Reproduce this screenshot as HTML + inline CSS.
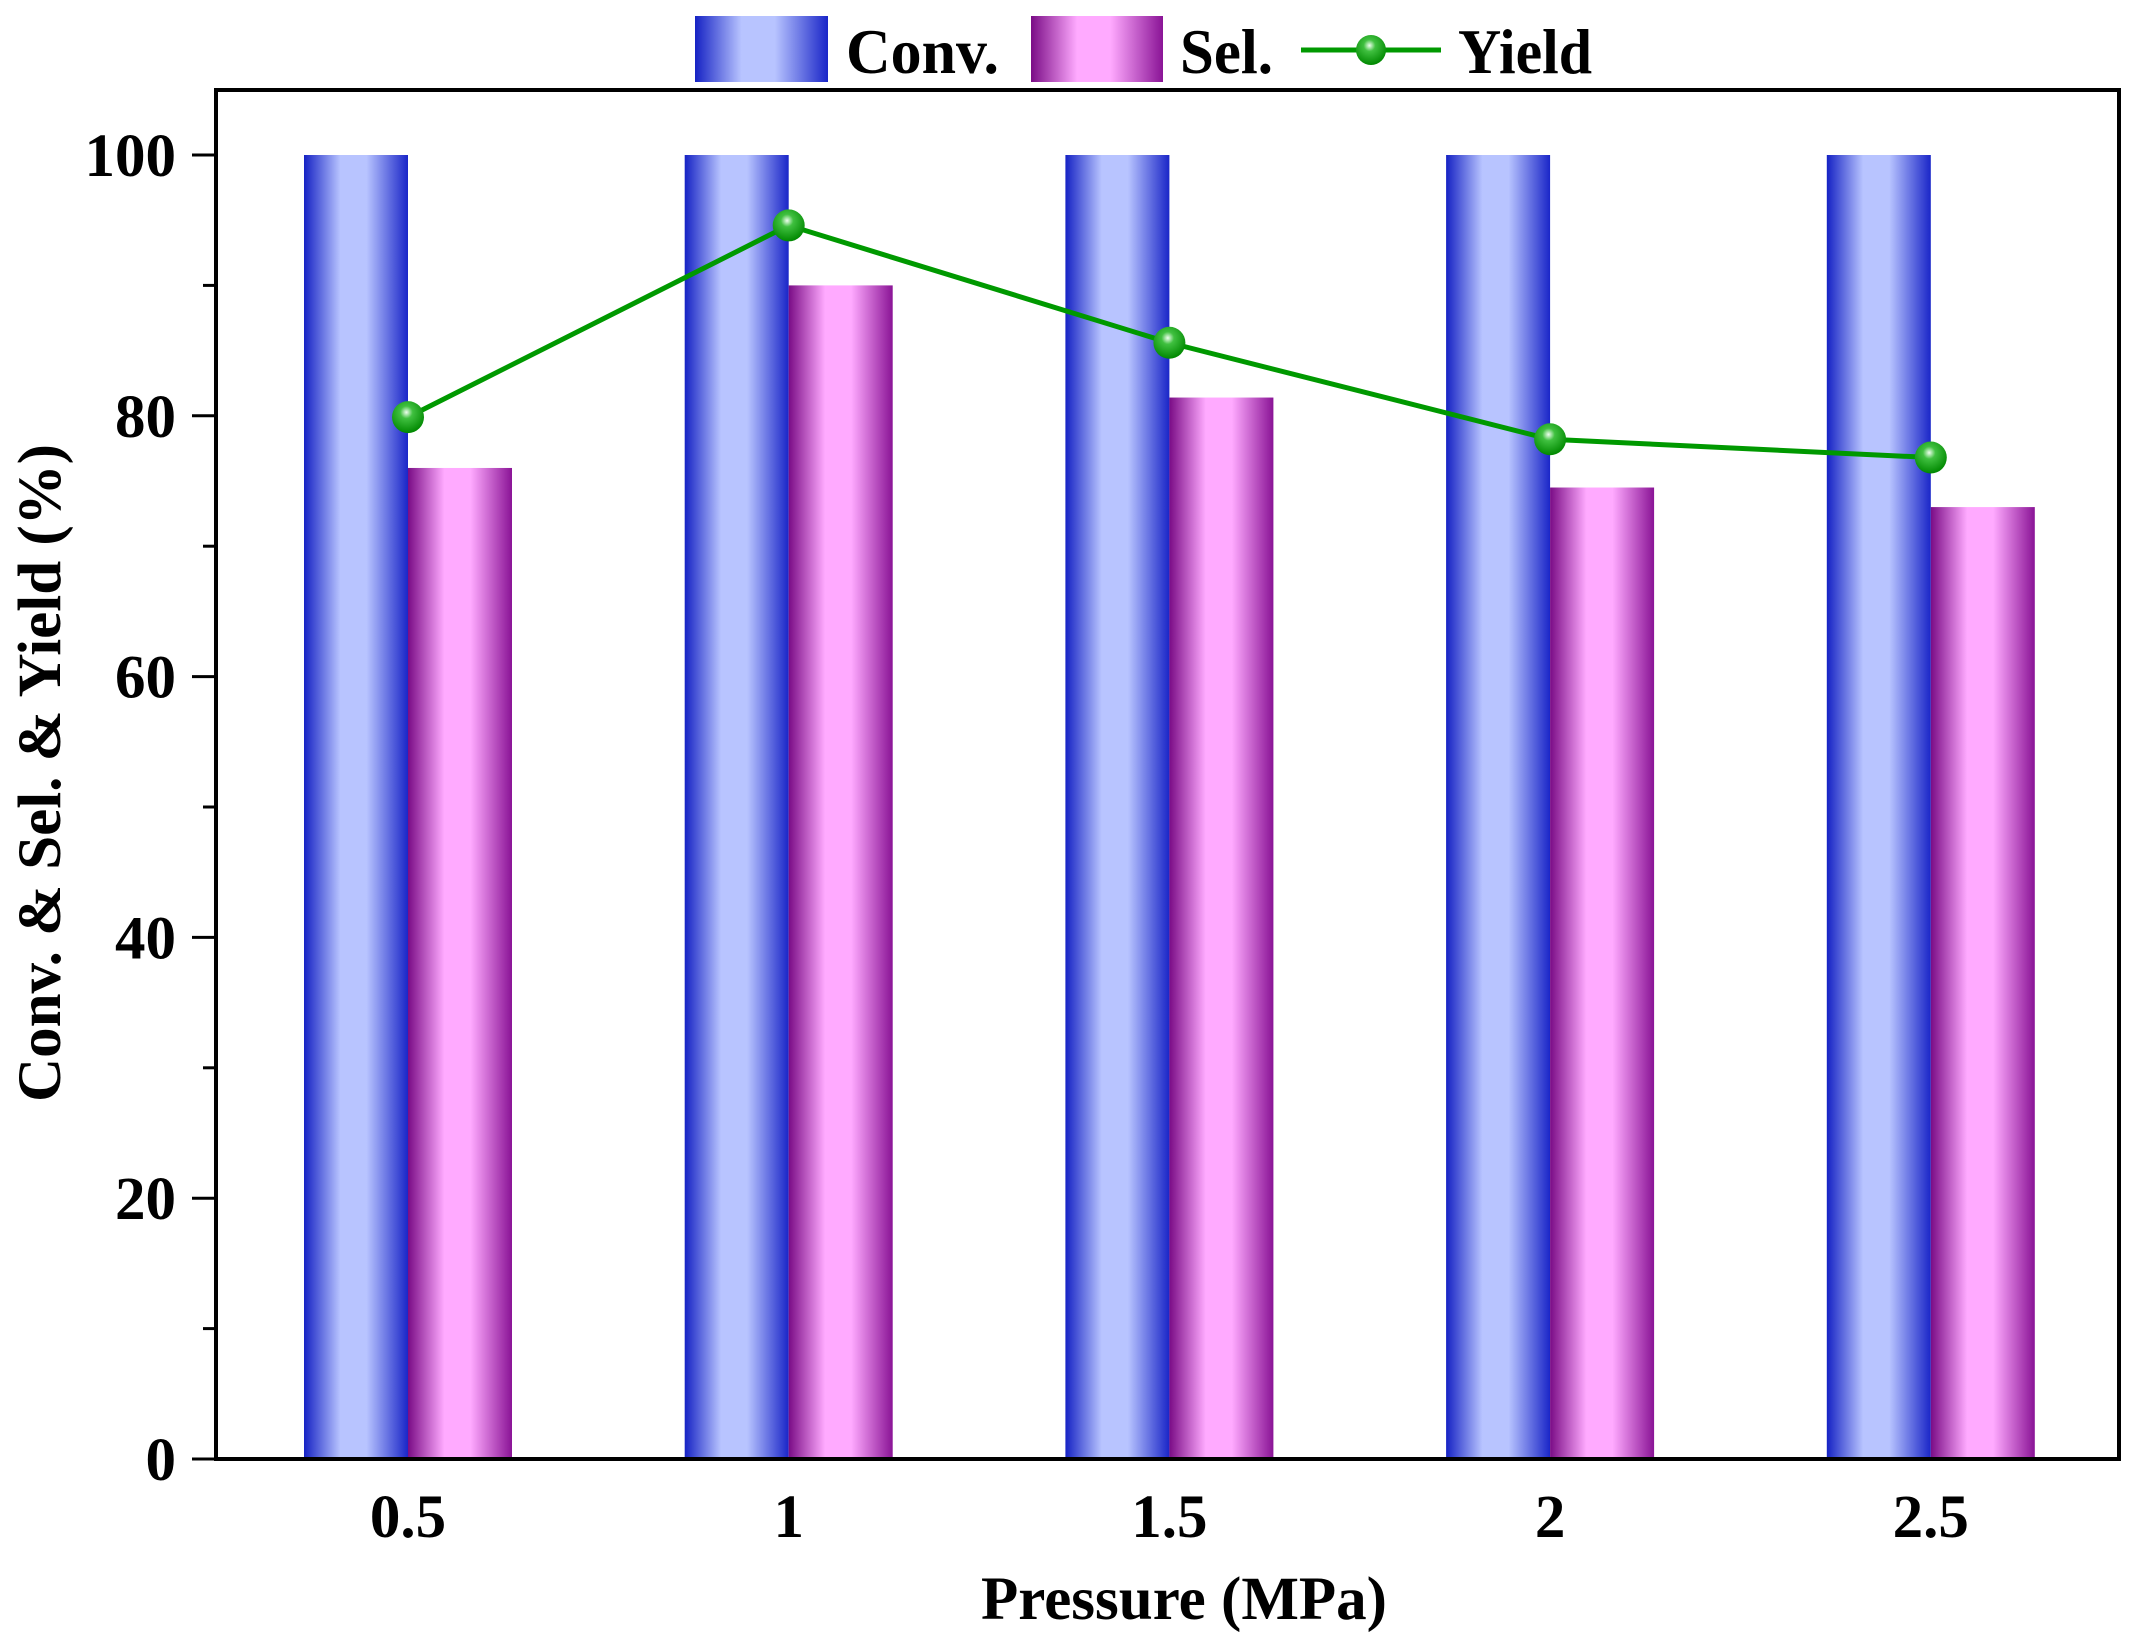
<!DOCTYPE html>
<html><head><meta charset="utf-8"><style>
html,body{margin:0;padding:0;background:#fff;}
svg{display:block;font-family:"Liberation Serif",serif;font-weight:bold;}
</style></head><body>
<svg id="chart" width="2146" height="1651" viewBox="0 0 2146 1651" xmlns="http://www.w3.org/2000/svg">
<defs>
<linearGradient id="gConv" x1="0" x2="1" y1="0" y2="0">
<stop offset="0" stop-color="#1522c4"/><stop offset="0.35" stop-color="#b8c4ff"/><stop offset="0.6" stop-color="#b8c4ff"/><stop offset="1" stop-color="#1a26c8"/>
</linearGradient>
<linearGradient id="gSel" x1="0" x2="1" y1="0" y2="0">
<stop offset="0" stop-color="#7a0c86"/><stop offset="0.35" stop-color="#ffaaff"/><stop offset="0.6" stop-color="#ffaaff"/><stop offset="1" stop-color="#8a1496"/>
</linearGradient>
<radialGradient id="gDot" cx="0.45" cy="0.35" r="0.65">
<stop offset="0" stop-color="#f0fff0"/><stop offset="0.3" stop-color="#40c040"/><stop offset="1" stop-color="#008800"/>
</radialGradient>
</defs>
<g id="legend">
<rect x="695" y="16" width="133" height="66" fill="url(#gConv)"/>
<text x="846" y="73" font-size="64" textLength="153" lengthAdjust="spacingAndGlyphs">Conv.</text>
<rect x="1031" y="16" width="132" height="66" fill="url(#gSel)"/>
<text x="1180" y="73" font-size="64" textLength="93" lengthAdjust="spacingAndGlyphs">Sel.</text>
<line x1="1301" y1="50" x2="1441" y2="50" stroke="#009900" stroke-width="5"/>
<circle cx="1371" cy="50" r="15" fill="url(#gDot)"/>
<text x="1458" y="73" font-size="64" textLength="134" lengthAdjust="spacingAndGlyphs">Yield</text>
</g>
<g id="plot"></g>
<text transform="translate(60,773) rotate(-90)" text-anchor="middle" font-size="61">Conv. &amp; Sel. &amp; Yield (%)</text>
<text x="1184" y="1619" text-anchor="middle" font-size="61">Pressure (MPa)</text>
</svg>
<script>
const categories = ["0.5","1","1.5","2","2.5"];
const conv = [100,100,100,100,100];
const sel = [76,90,81.4,74.5,73];
const yieldVals = [79.9,94.6,85.6,78.2,76.8];
const yTicks = [0,20,40,60,80,100];

const NS="http://www.w3.org/2000/svg";
const L=216,R=2119,T=90,B=1459;
const y0=1459,yPer=13.04;
function yS(v){return y0-v*yPer;}
function xS(i){return 408+i*380.7;}
const bw=104;
const g=document.getElementById('plot');
function mk(tag,attrs){const e=document.createElementNS(NS,tag);for(const k in attrs)e.setAttribute(k,attrs[k]);g.appendChild(e);return e;}

categories.forEach((c,i)=>{
  const x=xS(i);
  const r1=mk('rect',{x:x-bw,y:yS(conv[i]),width:bw,height:yS(0)-yS(conv[i]),fill:'url(#gConv)'});
  
  
  const r2=mk('rect',{x:x,y:yS(sel[i]),width:bw,height:yS(0)-yS(sel[i]),fill:'url(#gSel)'});
  
  
  const t=mk('text',{x:x,y:1537,'text-anchor':'middle','font-size':'61'});
  t.textContent=c;
  
  
});
const pts=yieldVals.map((v,i)=>xS(i)+','+yS(v)).join(' ');
const pl=mk('polyline',{points:pts,fill:'none',stroke:'#009900','stroke-width':5});


yieldVals.forEach((v,i)=>{
  const c=mk('circle',{cx:xS(i),cy:yS(v),r:16,fill:'url(#gDot)'});
  
  
});
const frame=mk('rect',{x:L,y:T,width:R-L,height:B-T,fill:'none',stroke:'#000','stroke-width':4});


for(let v=0;v<=100;v+=10){
  const major=v%20===0;
  const tk=mk('line',{x1:L,x2:L-(major?24:13),y1:yS(v),y2:yS(v),stroke:'#000','stroke-width':3});
  
  
}
yTicks.forEach(v=>{
  const t=mk('text',{x:176,y:yS(v)+21,'text-anchor':'end','font-size':'61'});
  t.textContent=v;
  
  
});
</script>
</body></html>
